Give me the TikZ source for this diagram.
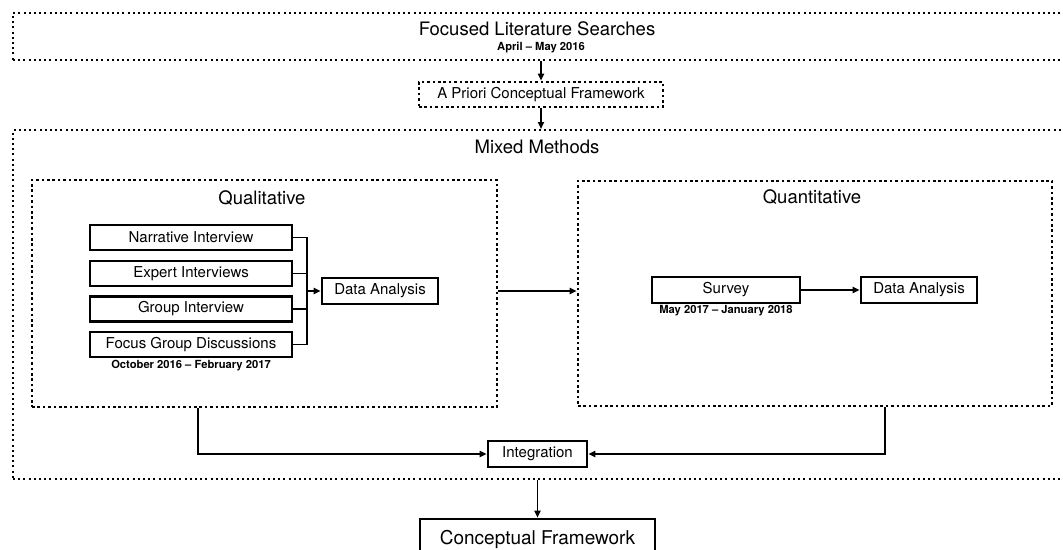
\documentclass[tikz,border=0pt]{standalone}
\usepackage{fontspec}
\setmainfont{TeX Gyre Heros}
\usetikzlibrary{arrows.meta, positioning}
\tikzset{dotbox/.style = {%
    draw, line width=2.6pt, dash pattern=on 2.6pt off 2.8pt,
    inner sep=0pt},
  bigdotbox/.style = {dotbox, line width=2pt,
    dash pattern=on 2pt off 3.2pt},
  solidbox/.style = {draw, line width=2.6pt, inner sep=0pt,
    font=\fontsize{15}{17}\selectfont},
  titletext/.style = {inner sep=0pt, font=\fontsize{18.5}{20}\selectfont},
  datetext/.style = {inner sep=0pt, font=\bfseries\fontsize{11.2}{13}\selectfont},
  line/.style = {line width=1.7pt},
  link/.style = {line, -{Triangle[length=7pt,width=6pt]}}}

\begin{document}
\begin{tikzpicture}[x=1pt, y=-1pt]
\useasboundingbox (0,0) rectangle (1063,549);
\node[bigdotbox, minimum width=1067pt, minimum height=47pt] (litbox) at (546.5,36.5) {};
\node[titletext] (littitle) at (537,29) {Focused Literature Searches};
\node[datetext] (litdate) at (541,48) {April -- May 2016};
\node[dotbox, minimum width=244pt, minimum height=25pt,
      font=\fontsize{15}{17}\selectfont] (apriori) at (541,94.5) {A Priori Conceptual Framework};
\node[bigdotbox, minimum width=1067pt, minimum height=349pt] (mixed) at (546.5,304.5) {};
\node[titletext] (mixedtitle) at (537,147) {Mixed Methods};
\node[dotbox, minimum width=465pt, minimum height=227pt] (qual) at (264.5,293.5) {};
\node[titletext] (qualtitle) at (262,198) {Qualitative};
\node[dotbox, minimum width=474pt, minimum height=225pt] (quant) at (815,293.5) {};
\node[titletext] (quanttitle) at (812,197) {Quantitative};
\foreach \name/\y/\txt in {narr/237.5/Narrative Interview, expert/273.5/Expert Interviews,
    group/309/Group Interview, focus/344.5/Focus Group Discussions}
  \node[solidbox, minimum width=202pt, minimum height=25pt] (\name) at (191,\y) {\txt};
\node[datetext] (qualdate) at (191,366) {October 2016 -- February 2017};
\node[solidbox, minimum width=116pt, minimum height=26pt] (qualda) at (380,291) {Data Analysis};
\node[solidbox, minimum width=148pt, minimum height=26pt] (survey) at (726,290) {Survey};
\node[datetext] (surveydate) at (726,311) {May 2017 -- January 2018};
\node[solidbox, minimum width=116pt, minimum height=26pt] (quantda) at (919,290) {Data Analysis};
\node[solidbox, minimum width=99pt, minimum height=26pt] (integ) at (537.5,454) {Integration};
\node[solidbox, minimum width=235pt, minimum height=40pt,
      font=\fontsize{19}{21}\selectfont] (concept) at (537.5,539) {Conceptual Framework};
\coordinate (join) at (307,291);
\coordinate (qualout) at (198,0);
\coordinate (quantout) at (885,0);

\draw[link] (litbox.south -| apriori) -- (apriori);
\draw[link] (apriori) -- (apriori |- mixed.north);
\foreach \name in {narr, expert, group, focus}
  \draw[line] (\name.east) -| (join);
\draw[link] (join) -- (qualda);
\draw[link] (qual.east |- qualda) -- (quant.west |- qualda);
\draw[link] (survey) -- (quantda);
\draw[link] (qual.south -| qualout) |- (integ.west);
\draw[link] (quant.south -| quantout) |- (integ.east);
\draw[link] (mixed.south -| integ) -- (concept);
\end{tikzpicture}
\end{document}
